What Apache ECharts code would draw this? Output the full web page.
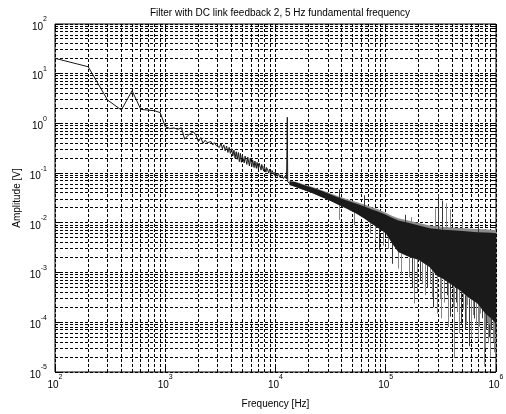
<!DOCTYPE html>
<html><head><meta charset="utf-8">
<script src="https://cdn.jsdelivr.net/npm/echarts@6.0.0/dist/echarts.min.js"></script>
<style>html,body{margin:0;padding:0;background:#fff;}#c{width:506px;height:414px;}</style>
</head><body><div id="c"></div>
<script>
const titleText = 'Filter with DC link feedback 2, 5 Hz fundamental frequency';
const xName = 'Frequency [Hz]';
const yName = 'Amplitude [V]';
const xMin = 100, xMax = 1e6, yMin = 1e-5, yMax = 100;

// Spectral trace (Hz, V)
const traceFreq = [100,200,300,400,500,600,700,800,900,1000,1100,1200,1300,1400,1500,1600,1700,1800,1900,2000,
  2100,2200,2300,2400,2500,2600,2700,2800,2900,3000,3100,3200,3300,3400,3500,3600,3700,3800,3900,4000,
  4100,4200,4300,4400,4500,4600,4700,4800,4900,5000,5200,5300,5500,5600,5800,5900,6100,6200,6400,6500,
  6700,6800,7000,7100,7400,7500,7800,7900,8200,8300,8700,8800,9200,9300,9800,9900,10400,10600,11000,11300,
  11800,12200,12600,12700,12800,12900,13000,13200,13400];
const traceAmp = [20.4,13.8,2.95,1.86,4.55,1.92,1.85,1.8,1.65,0.86,0.79,0.81,0.76,0.82,0.48,0.57,0.63,0.68,0.58,0.43,
  0.52,0.40,0.46,0.41,0.40,0.43,0.37,0.41,0.36,0.39,0.33,0.40,0.31,0.37,0.28,0.35,0.26,0.33,0.25,0.31,
  0.22,0.29,0.20,0.27,0.19,0.26,0.17,0.25,0.165,0.23,0.16,0.22,0.15,0.21,0.14,0.20,0.135,0.185,0.13,0.175,
  0.125,0.165,0.12,0.16,0.115,0.15,0.11,0.14,0.105,0.13,0.10,0.12,0.095,0.113,0.09,0.105,0.086,0.099,0.082,0.092,
  0.078,0.087,0.076,0.08,1.33,0.068,0.064,0.069,0.062];

// Dense noise band envelope (Hz, V)
const bandFreq  = [13400,15000,18000,22000,26000,30000,36000,45000,55000,65000,75000,85000,100000,115000,130000,160000,200000,250000,290000,330000,400000,470000,560000,680000,800000,900000,1000000];
const bandUpper = [0.068,0.066,0.058,0.050,0.044,0.039,0.033,0.028,0.024,0.021,0.0185,0.017,0.0145,0.0125,0.0112,0.0100,0.0088,0.0078,0.0075,0.0073,0.0071,0.0069,0.0067,0.0065,0.0064,0.0063,0.0062];
const bandLower = [0.058,0.053,0.046,0.039,0.033,0.029,0.024,0.019,0.015,0.012,0.0095,0.0080,0.0062,0.0038,0.0026,0.0021,0.0018,0.0013,0.00087,0.00075,0.00056,0.00044,0.00032,0.00024,0.00015,0.00012,0.000095];
const fringeUpper = [0.070,0.068,0.060,0.052,0.046,0.041,0.035,0.030,0.026,0.023,0.0205,0.0188,0.016,0.0138,0.0124,0.0112,0.0099,0.0088,0.0085,0.0083,0.0081,0.0079,0.0077,0.0075,0.0074,0.0073,0.0072];

// Isolated spikes (Hz, low V, high V)
const spikeFreq = [37800,37800,52000,64700,72000,80000,88000,95000,107000,115000,131000,140000,150000,165000,170000,175000,182000,195000,205000,215000,228000,240000,255000,263000,272000,280000,296000,300000,312000,320000,326000,340000,352000,360000,372000,383000,389000,410000,424000,435000,450000,462000,490000,500000,510000,524000,540000,550000,579000,600000,620000,640000,660000,690000,700000,714000,730000,750000,780000,800000,820000,835000,850000,870000,880000,900000,914000,940000,960000,985000];
const spikeLow  = [0.030,0.0115,0.009,0.021,0.006,0.0045,0.0029,0.0035,0.003,0.0015,0.0012,0.0009,0.0098,0.0008,0.009,0.0005,0.00024,0.00041,0.0007,0.0006,0.00035,0.0005,0.0006,0.00032,0.0002,0.0075,0.00015,0.0075,0.0003,0.00012,0.0073,0.00025,0.0072,0.00035,0.00008,0.0071,0.00013,0.0002,0.000019,0.00025,0.00016,0.00006,0.00009,0.0068,0.00018,0.000071,0.00009,0.00022,0.000033,0.00005,0.00014,0.00012,0.00009,0.000045,0.0065,0.000082,0.00015,0.00012,0.000013,0.00003,0.00007,0.0001,0.000038,0.00005,0.00009,0.00002,0.00007,0.00004,0.000025,0.00006];
const spikeHigh = [0.047,0.024,0.017,0.036,0.011,0.009,0.009,0.0065,0.006,0.004,0.0027,0.0024,0.0145,0.002,0.013,0.002,0.0019,0.0018,0.0017,0.0016,0.0015,0.0014,0.0013,0.0012,0.001,0.0195,0.0009,0.038,0.0009,0.0008,0.028,0.0008,0.0247,0.0007,0.00065,0.0186,0.0006,0.0006,0.0005,0.0005,0.0005,0.00045,0.0004,0.0105,0.0004,0.00035,0.00035,0.0004,0.0003,0.0003,0.0003,0.00028,0.00025,0.00025,0.0095,0.00024,0.00022,0.0002,0.00018,0.00016,0.00016,0.00015,0.00015,0.00014,0.00013,0.00013,0.00012,0.00011,0.0001,0.0001];

const FONT = '"Liberation Sans", Arial, Helvetica, sans-serif';
const xGridVals = [], yGridVals = [];
for (let e = 2; e <= 5; e++) for (let m = 1; m <= 9; m++) xGridVals.push(m * Math.pow(10, e));
xGridVals.push(1e6);
for (let e = -5; e <= 1; e++) for (let m = 1; m <= 9; m++) yGridVals.push(m * Math.pow(10, e));
yGridVals.push(100);

const crisp = v => Math.round(v - 0.5) + 0.5;
const isMajor = v => Math.abs(Math.log10(v) - Math.round(Math.log10(v))) < 1e-9;
const gridStyle = {stroke: '#000', lineWidth: 1, lineDash: [3, 2]};
const tickStyle = {stroke: '#000', lineWidth: 1};

const expLabel = v => '{b|10}{s|' + Math.round(Math.log10(v)) + '}';
const labelRich = {
  b: {fontSize: 10, fontFamily: FONT, color: '#000', lineHeight: 16, verticalAlign: 'bottom'},
  s: {fontSize: 7, fontFamily: FONT, color: '#000', lineHeight: 9, verticalAlign: 'top'}
};

const chart = echarts.init(document.getElementById('c'), null, {renderer: 'canvas'});
chart.setOption({
  animation: false,
  backgroundColor: '#fff',
  title: {text: titleText, left: 275, top: 3, textAlign: 'center',
    textStyle: {fontSize: 10, fontWeight: 'normal', fontFamily: FONT, color: '#000'}},
  grid: {left: 55, right: 10, top: 24, bottom: 42, containLabel: false, outerBoundsMode: 'none',
    show: true, borderColor: '#000', borderWidth: 1, backgroundColor: '#fff'},
  xAxis: {type: 'log', logBase: 10, min: xMin, max: xMax,
    name: xName, nameLocation: 'middle', nameGap: 27, nameMoveOverlap: false,
    nameTextStyle: {fontSize: 10, fontFamily: FONT, color: '#000'},
    axisLine: {show: false}, axisTick: {show: false}, splitLine: {show: false},
    axisLabel: {formatter: expLabel, rich: labelRich, margin: 2, showMinLabel: true, showMaxLabel: true, hideOverlap: false}},
  yAxis: {type: 'log', logBase: 10, min: yMin, max: yMax,
    name: yName, nameLocation: 'middle', nameGap: 33, nameRotate: 90, nameMoveOverlap: false,
    nameTextStyle: {fontSize: 10, fontFamily: FONT, color: '#000'},
    axisLine: {show: false}, axisTick: {show: false}, splitLine: {show: false},
    axisLabel: {formatter: expLabel, rich: labelRich, margin: 8, showMinLabel: true, showMaxLabel: true, hideOverlap: false}},
  series: [
    {type: 'custom', z: 1, silent: true, data: xGridVals.map(v => [v, yMin]),
      renderItem: (params, api) => {
        const v = api.value(0);
        const t = api.coord([v, yMax]), b = api.coord([v, yMin]);
        const x = crisp(t[0]);
        const len = isMajor(v) ? 5 : 3;
        return {type: 'group', children: [
          {type: 'line', shape: {x1: x, y1: t[1], x2: x, y2: b[1]}, style: gridStyle},
          {type: 'line', shape: {x1: x, y1: b[1], x2: x, y2: b[1] - len}, style: tickStyle},
          {type: 'line', shape: {x1: x, y1: t[1], x2: x, y2: t[1] + len}, style: tickStyle}
        ]};
      }},
    {type: 'custom', z: 1, silent: true, data: yGridVals.map(v => [xMin, v]),
      renderItem: (params, api) => {
        const v = api.value(1);
        const l = api.coord([xMin, v]), r = api.coord([xMax, v]);
        const y = crisp(l[1]);
        const len = isMajor(v) ? 5 : 3;
        return {type: 'group', children: [
          {type: 'line', shape: {x1: l[0], y1: y, x2: r[0], y2: y}, style: gridStyle},
          {type: 'line', shape: {x1: l[0], y1: y, x2: l[0] + len, y2: y}, style: tickStyle},
          {type: 'line', shape: {x1: r[0], y1: y, x2: r[0] - len, y2: y}, style: tickStyle}
        ]};
      }},
    {type: 'custom', z: 2, silent: true, data: bandFreq.map((f, i) => [f, fringeUpper[i]]),
      renderItem: (params, api) => {
        if (params.dataIndex !== 0) return null;
        const pts = [];
        for (let i = 0; i < bandFreq.length; i++) pts.push(api.coord([bandFreq[i], fringeUpper[i]]));
        for (let i = bandFreq.length - 1; i >= 0; i--) pts.push(api.coord([bandFreq[i], bandLower[i]]));
        return {type: 'polygon', shape: {points: pts}, style: {fill: '#8c8c8c'}};
      }},
    {type: 'custom', z: 3, silent: true, data: spikeFreq.map((f, i) => [f, spikeLow[i], spikeHigh[i]]),
      encode: {x: 0, y: [1, 2]},
      renderItem: (params, api) => {
        const f = api.value(0);
        const a = api.coord([f, api.value(1)]), b = api.coord([f, api.value(2)]);
        const x = crisp(a[0]);
        return {type: 'line', shape: {x1: x, y1: a[1], x2: x, y2: b[1]},
          style: {stroke: params.dataIndex % 3 === 0 ? '#3a3a3a' : '#858585', lineWidth: 1}};
      }},
    {type: 'custom', z: 4, silent: true, data: bandFreq.map((f, i) => [f, bandUpper[i]]),
      renderItem: (params, api) => {
        if (params.dataIndex !== 0) return null;
        const pts = [];
        for (let i = 0; i < bandFreq.length; i++) pts.push(api.coord([bandFreq[i], bandUpper[i]]));
        for (let i = bandFreq.length - 1; i >= 0; i--) pts.push(api.coord([bandFreq[i], bandLower[i]]));
        return {type: 'polygon', shape: {points: pts}, style: {fill: '#1a1a1a'}};
      }},
    {type: 'line', z: 5, silent: true, showSymbol: false, symbol: 'none', sampling: null,
      data: traceFreq.map((f, i) => [f, traceAmp[i]]),
      lineStyle: {color: '#1a1a1a', width: 1}}
  ]
});
</script></body></html>
